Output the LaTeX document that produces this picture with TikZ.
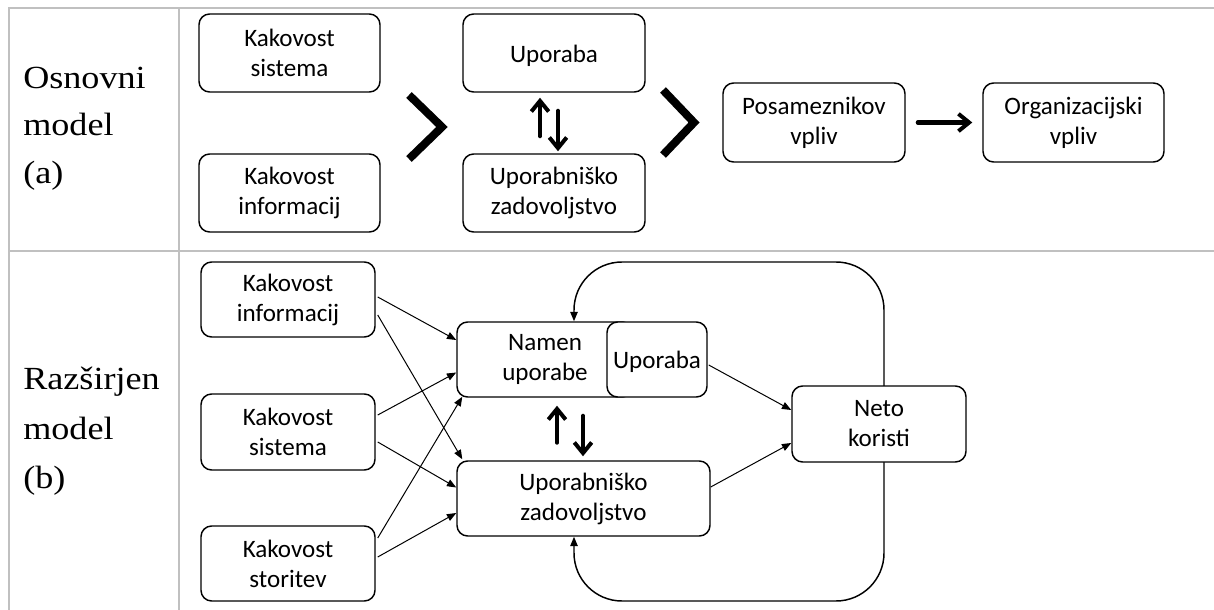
\documentclass[tikz,border=0pt]{standalone}
\usepackage{fontspec}
\setmainfont{Carlito}
\newfontfamily\labelfont[FakeStretch=1.12]{Liberation Serif}
\usetikzlibrary{arrows.meta,calc}
\definecolor{gridgray}{HTML}{C0C0C0}

\begin{document}
\begin{tikzpicture}[x=0.75pt,y=-0.75pt,
  box/.style={draw,line width=1.1pt,rounded corners=8pt,fill=white,align=center,
    inner sep=0pt,font=\fontsize{18.8}{22.5}\selectfont,
    execute at begin node={\rule{0pt}{17pt}}},
  rowlbl/.style={anchor=base west,inner sep=0pt,font=\labelfont\fontsize{24.2}{28}\selectfont},
  grid/.style={draw=gridgray,line width=1.5pt},
  chev/.style={line width=6pt,line join=miter},
  bold/.style={line width=3pt,line cap=round,-{Straight Barb[length=8pt,width=13pt]}},
  thin/.style={line width=0.75pt,-{Triangle[length=7pt,width=5.5pt]}},
  fb/.style={line width=1.1pt,rounded corners=36pt,-{Triangle[length=7pt,width=5.5pt]}}
]
\useasboundingbox (0,0) rectangle (1214,610);

% table rules
\draw[grid] (8,8) -- (1214,8);
\draw[grid] (8,251) -- (1214,251);
\draw[grid] (9,8) -- (9,610);
\draw[grid] (179,8) -- (179,610);

% row headings
\node[rowlbl] (a1) at (23,89) {Osnovni};
\node[rowlbl] (a2) at (23,136) {model};
\node[rowlbl] (a3) at (23,183) {(a)};
\node[rowlbl] (b1) at (23,389) {Razširjen};
\node[rowlbl] (b2) at (23,439) {model};
\node[rowlbl] (b3) at (23,488) {(b)};

% --- basic model ---
\node[box,minimum width=135.75pt,minimum height=58.5pt] (ksa) at (289.5,53) {Kakovost\\sistema};
\node[box,minimum width=135.75pt,minimum height=58.5pt] (kia) at (289.5,193) {Kakovost\\informacij};
\node[box,minimum width=136.5pt,minimum height=58.5pt] (upa) at (554,53) {Uporaba};
\node[box,minimum width=136.5pt,minimum height=58.5pt] (uza) at (554,193) {Uporabniško\\zadovoljstvo};
\node[box,minimum width=136.5pt,minimum height=59.25pt] (pva) at (814,122.5) {Posameznikov\\vpliv};
\node[box,minimum width=135.75pt,minimum height=59.25pt] (ova) at (1073.5,122.5) {Organizacijski\\vpliv};

\draw[chev] (409,95) -- (442,127) -- (409,159);
\draw[chev] (663,90) -- (694,122.5) -- (663,155);

\draw[bold] ($(uza.north)+(-14,-17)$) -- ($(upa.south)+(-14,5)$);
\draw[bold] ($(upa.south)+(4,18)$) -- ($(uza.north)+(4,-2)$);
\draw[bold] ($(pva.east)+(12,0)$) -- ($(ova.west)+(-10,0)$);

% --- extended model ---
\node[box,minimum width=130.5pt,minimum height=56.25pt] (ki) at (288,299.5) {Kakovost\\informacij};
\node[box,minimum width=130.5pt,minimum height=57pt] (ks) at (288,432) {Kakovost\\sistema};
\node[box,minimum width=130.5pt,minimum height=56.25pt] (kst) at (288,563.5) {Kakovost\\storitev};
\node[box,minimum width=132pt,minimum height=56.25pt] (namen) at (545,359.5) {Namen\\uporabe};
\node[box,minimum width=75pt,minimum height=56.25pt] (upb) at (657,359.5) {Uporaba};
\node[box,minimum width=189.75pt,minimum height=56.25pt] (uz) at (583.5,498.5) {Uporabniško\\zadovoljstvo};

% feedback loop from net benefits
\coordinate (looptop) at (884,262);
\coordinate (loopbot) at (884,601);
\draw[fb] (looptop |- 0,386) -- (looptop) -| ($(namen.north)+(29,0)$);
\draw[fb] (loopbot |- 0,462) -- (loopbot) -| ($(uz.south)+(-9.5,0)$);

\node[box,minimum width=130.5pt,minimum height=57pt] (nk) at (879,424) {Neto\\koristi};

\draw[thin] ($(ki.east)+(2,-2.5)$) -- ($(namen.west)+(0,-19.5)$);
\draw[thin] ($(ki.east)+(2,15.5)$) -- ($(uz.north west)+(6,-1)$);
\draw[thin] ($(ks.east)+(2,-17)$) -- ($(namen.west)+(0,13)$);
\draw[thin] ($(ks.east)+(2,10)$) -- ($(uz.west)+(0,-11)$);
\draw[thin] ($(kst.east)+(2,-25.5)$) -- ($(namen.south west)+(6,-1)$);
\draw[thin] ($(kst.east)+(2,-6.5)$) -- ($(uz.west)+(0,14.5)$);
\draw[thin] ($(upb.east)+(1,5.5)$) -- ($(nk.west)+(0,-14)$);
\draw[thin] ($(uz.east)+(0,-11.5)$) -- ($(nk.west)+(0,19)$);

\draw[bold] ($(namen.south)+(12,45)$) -- ($(namen.south)+(12,8)$);
\draw[bold] ($(namen.south)+(38,18)$) -- ($(uz.north)+(-0.5,-4)$);
\end{tikzpicture}
\end{document}
